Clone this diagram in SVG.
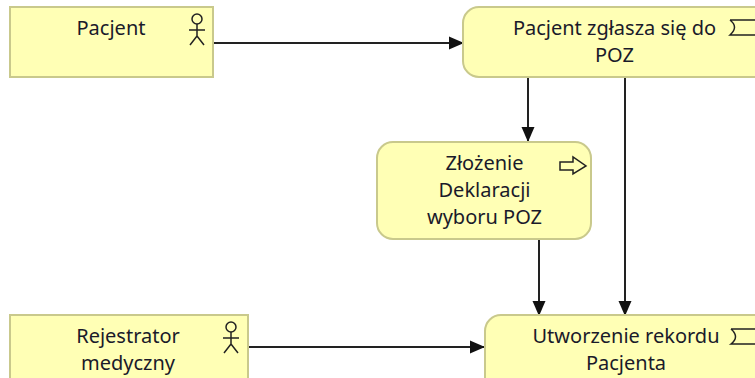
<svg xmlns="http://www.w3.org/2000/svg" width="755" height="378" viewBox="0 0 755 378">
<defs>
<marker id="arr" markerUnits="userSpaceOnUse" markerWidth="16" markerHeight="16" refX="15" refY="8" orient="auto"><path d="M0 1.5L15 8L0 14.5Z" fill="#111"/></marker>
</defs>
<style>
.n{fill:#ffffb5;stroke:#c9c98c;stroke-width:2}
.t{font-family:"Noto Sans","Open Sans",sans-serif;font-size:20px;fill:#1a1a2a;text-anchor:middle}
.i{fill:none;stroke:#222;stroke-width:1.5}
.c{fill:none;stroke:#222;stroke-width:2;marker-end:url(#arr)}
</style>
<rect width="755" height="378" fill="#fff"/>
<g id="connectors">
<path class="c" d="M213 43H464"/>
<path class="c" d="M528 77V142"/>
<path class="c" d="M625 77V316"/>
<path class="c" d="M539 239V316"/>
<path class="c" d="M248 347H485"/>
</g>
<g id="pacjent">
<rect class="n" x="10" y="7" width="203" height="70"/>
<text class="t" x="111" y="35">Pacjent</text>
<g class="i"><circle cx="197" cy="19" r="5"/><path d="M197 24V36M189 30H205M190 45L197 36L204 45"/></g>
</g>
<g id="pacjent-zglasza">
<rect class="n" x="463" y="7" width="310" height="70" rx="16"/>
<text class="t" x="614.500" y="35">Pacjent zgłasza się do</text>
<text class="t" x="614.500" y="62">POZ</text>
<path class="i" d="M730 20H755M730 20Q739 27 730 35H755"/>
</g>
<g id="zlozenie">
<rect class="n" x="377" y="142" width="214" height="97" rx="16"/>
<text class="t" x="484.500" y="170">Złożenie</text>
<text class="t" x="484.500" y="197">Deklaracji</text>
<text class="t" x="484.500" y="224">wyboru POZ</text>
<path class="i" d="M560 162H573V157L586 166L573 174V170H560Z"/>
</g>
<g id="rejestrator">
<rect class="n" x="10" y="315" width="238" height="80"/>
<text class="t" x="128" y="343">Rejestrator</text>
<text class="t" x="128" y="370">medyczny</text>
<g class="i"><circle cx="231" cy="327" r="5"/><path d="M231 332V344M223 338H239M224 353L231 344L238 353"/></g>
</g>
<g id="utworzenie">
<rect class="n" x="485" y="315" width="300" height="80" rx="16"/>
<text class="t" x="626" y="343">Utworzenie rekordu</text>
<text class="t" x="626" y="370">Pacjenta</text>
<path class="i" d="M731 329H755M731 329Q740 337 731 344H755"/>
</g>
</svg>
